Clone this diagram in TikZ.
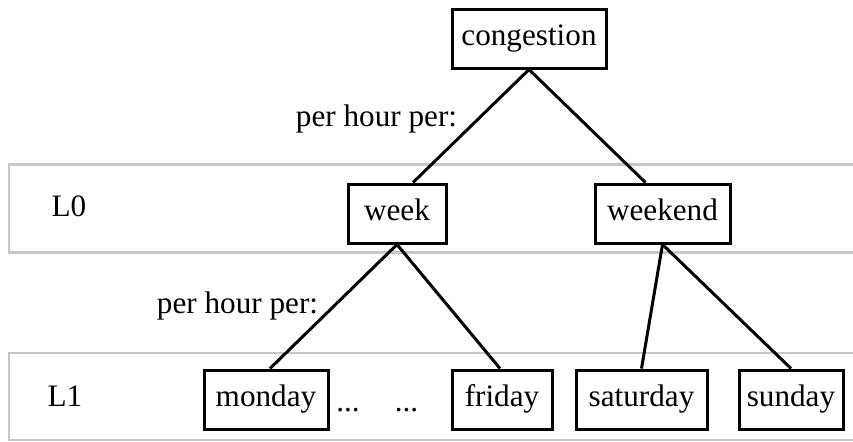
\documentclass[tikz,border=0pt]{standalone}
\usepackage{fontspec}
\setmainfont{Liberation Serif}
\usetikzlibrary{calc}
\begin{document}
\begin{tikzpicture}[x=0.5pt,y=-0.5pt,
  txt/.style={font=\fontsize{15.6}{18}\selectfont, text height=10.5pt, text depth=3.5pt},
  box/.style={txt, draw, line width=1.5pt, minimum height=29.5pt, inner sep=0pt},
  lbl/.style={txt, inner sep=0pt},
  band/.style={draw=black!22, line width=1.4pt},
  edge/.style={line width=1.5pt}]
\useasboundingbox (0,0) rectangle (853,441);
% bands
\draw[band] (870,164.5) -- (9,164.5) -- (9,252.5) -- (870,252.5);
\draw[band] (870,353) -- (9,353) -- (9,440) -- (870,440);
% level labels
\node[lbl] (l0) at (69,209.5) {L0};
\node[lbl] (l1) at (65,399.5) {L1};
% nodes
\node[box, minimum width=77pt] (congestion) at (529,38.5) {congestion};
\node[box, minimum width=49pt] (week) at (397,213.5) {week};
\node[box, minimum width=67.5pt] (weekend) at (662.5,213.5) {weekend};
\node[box, minimum width=62pt] (monday) at (266,399.5) {monday};
\node[box, minimum width=50pt] (friday) at (502,399.5) {friday};
\node[box, minimum width=65.5pt] (saturday) at (641.5,399.5) {saturday};
\node[box, minimum width=52pt] (sunday) at (791,399.5) {sunday};
\node[lbl] (dots1) at (348,404.5) {...};
\node[lbl] (dots2) at (406.5,404.5) {...};
% edge labels
\node[lbl] (per1) at (376.5,119.5) {per hour per:};
\node[lbl] (per2) at (237.5,306) {per hour per:};
% edges
\draw[edge] (congestion.south) -- ($(week.north)+(16,0)$);
\draw[edge] (congestion.south) -- ($(weekend.north)+(-17,0)$);
\draw[edge] (week.south) -- ($(monday.north)+(4,0)$);
\draw[edge] (week.south) -- ($(friday.north)+(-2,0)$);
\draw[edge] (weekend.south) -- (saturday.north);
\draw[edge] (weekend.south) -- (sunday.north);
\end{tikzpicture}
\end{document}
